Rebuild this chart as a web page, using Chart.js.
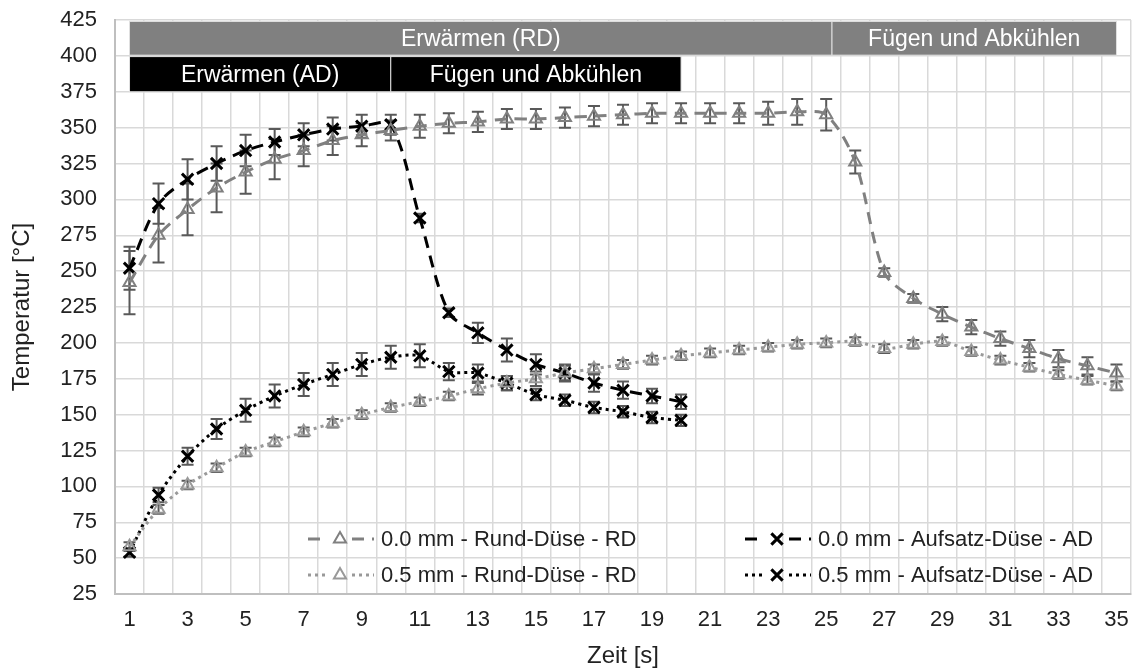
<!DOCTYPE html>
<html>
<head>
<meta charset="utf-8">
<title>Temperatur</title>
<script src="https://cdn.jsdelivr.net/npm/chart.js@4.4.1/dist/chart.umd.min.js"></script>
<style>
  body { margin: 0; background: #fff; }
  #wrap { width: 1142px; height: 668px; }
</style>
</head>
<body>
<div id="wrap"><canvas id="temp-chart" width="1142" height="668"></canvas></div>
<script>
// Zeit [s]
const labels = ['1','2','3','4','5','6','7','8','9','10','11','12','13','14','15','16','17','18',
  '19','20','21','22','23','24','25','26','27','28','29','30','31','32','33','34','35'];

// 0.0 mm - Rund-Düse - RD
const rd00 = [242, 275, 293, 308, 319, 328, 334, 341, 345, 348, 351, 353, 354, 356, 356, 357, 358, 359,
  360, 360, 360, 360, 360, 361, 359, 326, 249, 231, 220, 211, 203, 196, 189, 184, 179];
const rd00Err = [22, 19, 18, 17, 15, 14, 11, 10, 8, 7, 8, 7, 7, 7, 7, 7, 7, 7,
  7, 7, 7, 7, 8, 9, 11, 8, 3, 3, 5, 5, 5, 6, 6, 6, 6];

// 0.5 mm - Rund-Düse - RD
const rd05 = [58, 84, 101, 113, 124, 131, 138, 144, 150, 155, 159, 163, 168, 172, 175, 179, 182, 185,
  188, 191, 193, 195, 197, 199, 200, 201, 196, 199, 201, 194, 188, 183, 178, 174, 170];
const rd05Err = [3, 3, 3, 3, 3, 3, 3, 3, 3, 3, 3, 3, 4, 5, 5, 5, 3, 3,
  3, 3, 3, 3, 3, 3, 3, 3, 3, 3, 3, 3, 3, 3, 3, 3, 3];

// 0.0 mm - Aufsatz-Düse - AD
const ad00 = [252, 297, 314, 325, 334, 340, 345, 349, 351, 352, 287, 221, 207, 195, 185, 179, 172, 167, 163, 159];
const ad00Err = [15, 14, 14, 12, 11, 9, 8, 8, 8, 7, 3, 3, 7, 8, 7, 6, 6, 6, 5, 5];

// 0.5 mm - Aufsatz-Düse - AD
const ad05 = [54, 94, 121, 140, 153, 163, 171, 178, 185, 190, 191, 180, 179, 172, 164, 160, 155, 152, 148, 146];
const ad05Err = [3, 5, 6, 7, 8, 8, 8, 8, 8, 8, 8, 6, 6, 5, 4, 4, 4, 4, 4, 4];

// Prozessphasen (Zeit-Grenzen in s, Temperaturband in °C)
const rdPhases = ['Erwärmen (RD)', 'Fügen und Abkühlen'];
const rdBounds = [1, 25.2, 35];
const rdBand = [400.5, 424];
const adPhases = ['Erwärmen (AD)', 'Fügen und Abkühlen'];
const adBounds = [1, 10, 20];
const adBand = [375, 399.5];

const FONT = "'Liberation Sans', Arial, sans-serif";
Chart.defaults.font.family = FONT;
Chart.defaults.color = '#222';

const errorBars = {
  id: 'errorBars',
  beforeDatasetsDraw(chart) {
    const ctx = chart.ctx;
    const y = chart.scales.y;
    ctx.save();
    ctx.strokeStyle = '#595959';
    ctx.lineWidth = 2;
    chart.data.datasets.forEach((ds, di) => {
      const meta = chart.getDatasetMeta(di);
      ds.errors.forEach((e, i) => {
        const pt = meta.data[i];
        if (!pt) return;
        const top = y.getPixelForValue(ds.data[i] + e);
        const bot = y.getPixelForValue(ds.data[i] - e);
        ctx.beginPath();
        ctx.moveTo(pt.x, top); ctx.lineTo(pt.x, bot);
        ctx.moveTo(pt.x - 6, top); ctx.lineTo(pt.x + 6, top);
        ctx.moveTo(pt.x - 6, bot); ctx.lineTo(pt.x + 6, bot);
        ctx.stroke();
      });
    });
    ctx.restore();
  }
};

function drawBand(chart, names, bounds, band, fill) {
  const ctx = chart.ctx;
  const x = chart.scales.x, y = chart.scales.y;
  const top = y.getPixelForValue(band[1]);
  const bot = y.getPixelForValue(band[0]);
  names.forEach((name, i) => {
    const x0 = x.getPixelForValue(bounds[i] - 1);
    const x1 = x.getPixelForValue(bounds[i + 1] - 1);
    ctx.fillStyle = fill;
    ctx.fillRect(x0, top, x1 - x0, bot - top);
    ctx.strokeStyle = '#e0e0e0';
    ctx.lineWidth = 1;
    ctx.strokeRect(x0, top, x1 - x0, bot - top);
    ctx.fillStyle = '#fff';
    ctx.font = '23px ' + FONT;
    ctx.textAlign = 'center';
    ctx.textBaseline = 'middle';
    ctx.fillText(name, (x0 + x1) / 2, (top + bot) / 2 + 1);
  });
}

const phaseBands = {
  id: 'phaseBands',
  afterDraw(chart) {
    chart.ctx.save();
    drawBand(chart, rdPhases, rdBounds, rdBand, '#808080');
    drawBand(chart, adPhases, adBounds, adBand, '#000000');
    chart.ctx.restore();
  }
};

// Legende innerhalb des Diagramms, zwei Spalten
const innerLegend = {
  id: 'innerLegend',
  afterDraw(chart) {
    const ctx = chart.ctx;
    const slots = [[308, 539], [308, 575], [745, 539], [745, 575]];
    ctx.save();
    chart.data.datasets.forEach((ds, i) => {
      const [lx, ly] = slots[i];
      ctx.strokeStyle = ds.borderColor;
      ctx.lineWidth = ds.borderWidth;
      ctx.setLineDash(ds.borderDash);
      ctx.beginPath();
      ctx.moveTo(lx, ly); ctx.lineTo(lx + 20, ly);
      ctx.moveTo(lx + 44, ly); ctx.lineTo(lx + 66, ly);
      ctx.stroke();
      ctx.setLineDash([]);
      ctx.lineWidth = ds.pointBorderWidth;
      ctx.fillStyle = 'rgba(255,255,255,0)';
      Chart.helpers.drawPoint(ctx, {
        pointStyle: ds.pointStyle, radius: ds.pointRadius, borderWidth: ds.pointBorderWidth
      }, lx + 32, ly);
      ctx.fillStyle = '#222';
      ctx.font = '22px ' + FONT;
      ctx.textAlign = 'left';
      ctx.textBaseline = 'middle';
      ctx.fillText(ds.label, lx + 73, ly + 1);
    });
    ctx.restore();
  }
};

function series(label, data, errors, color, dash, style, radius, width) {
  return {
    label: label,
    data: data,
    errors: errors,
    borderColor: color,
    borderWidth: 3,
    borderDash: dash,
    tension: 0.3,
    pointStyle: style,
    pointRadius: radius,
    pointBorderWidth: width,
    pointBorderColor: color,
    pointBackgroundColor: 'rgba(255,255,255,0)'
  };
}

new Chart(document.getElementById('temp-chart'), {
  type: 'line',
  data: {
    labels: labels,
    datasets: [
      series('0.0 mm - Rund-Düse - RD', rd00, rd00Err, '#808080', [12, 8], 'triangle', 7, 2),
      series('0.5 mm - Rund-Düse - RD', rd05, rd05Err, '#999999', [3, 4], 'triangle', 7, 2),
      series('0.0 mm - Aufsatz-Düse - AD', ad00, ad00Err, '#000000', [12, 8], 'crossRot', 8, 3),
      series('0.5 mm - Aufsatz-Düse - AD', ad05, ad05Err, '#000000', [3, 4], 'crossRot', 8, 3)
    ]
  },
  options: {
    responsive: false,
    animation: false,
    layout: { padding: { top: 20, right: 5, left: 0, bottom: 0 } },
    plugins: { legend: { display: false }, tooltip: { enabled: false } },
    scales: {
      x: {
        offset: true,
        grid: { offset: true, color: '#d9d9d9', lineWidth: 1.5, drawTicks: false },
        border: { color: '#bfbfbf', width: 2 },
        ticks: {
          autoSkip: false,
          maxRotation: 0,
          padding: 13,
          font: { size: 22 },
          callback: function(value, index) {
            return index % 2 === 0 ? this.getLabelForValue(value) : '';
          }
        },
        title: { display: true, text: 'Zeit [s]', font: { size: 24, lineHeight: 1 }, padding: 0 },
        afterFit: function(scale) {
          scale.height = 74;
          scale.paddingLeft = 0;
          scale.paddingRight = 0;
        }
      },
      y: {
        min: 25,
        max: 425,
        grid: { color: '#d9d9d9', lineWidth: 1.5, drawTicks: false },
        border: { color: '#bfbfbf', width: 2 },
        ticks: { stepSize: 25, padding: 18, font: { size: 22 } },
        title: { display: true, text: 'Temperatur [°C]', font: { size: 24 }, padding: { top: 8, bottom: 0 } },
        afterFit: function(scale) {
          scale.width = 115;
          scale.paddingTop = 0;
          scale.paddingBottom = 0;
        }
      }
    }
  },
  plugins: [errorBars, phaseBands, innerLegend]
});
</script>
</body>
</html>
